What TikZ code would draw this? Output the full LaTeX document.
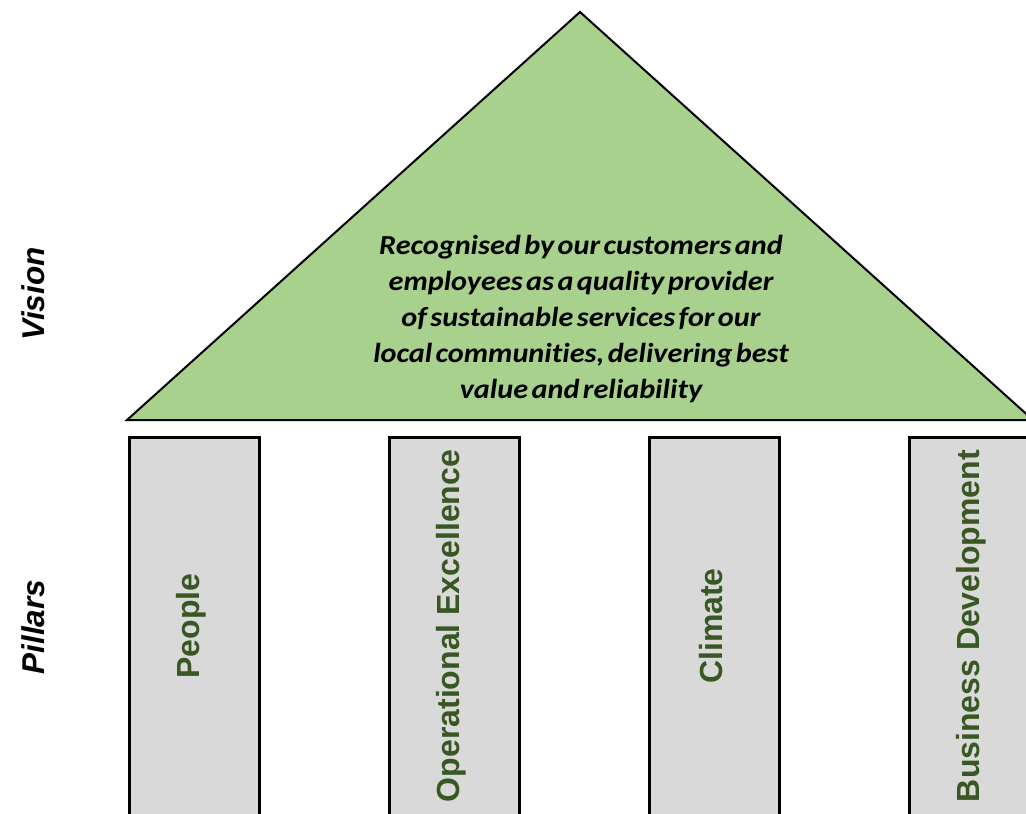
\documentclass[tikz,border=0pt]{standalone}
\usepackage{fontspec}
\setmainfont{Liberation Sans}
\newfontfamily\calib[Ligatures=NoCommon,FakeStretch=1.1,WordSpace=0.5]{Carlito}
\definecolor{roofgreen}{HTML}{A9D18E}
\definecolor{pillargray}{HTML}{D9D9D9}
\definecolor{textgreen}{HTML}{385723}
\begin{document}
\begin{tikzpicture}[x=1pt,y=-1pt,
  roof/.style={fill=roofgreen,draw=black,line width=2pt,line join=miter},
  pillar/.style={fill=pillargray,draw=black,line width=3pt,minimum width=130pt,minimum height=420pt,anchor=north west,inner sep=0pt},
  pillartext/.style={rotate=90,font=\bfseries\fontsize{32}{34}\selectfont,text=textgreen},
  sidelabel/.style={rotate=90,font=\bfseries\itshape\fontsize{31.5}{33}\selectfont,text=black},
  visiontext/.style={align=center,font=\calib\bfseries\itshape\fontsize{27.5}{36}\selectfont}]
\useasboundingbox (0,0) rectangle (1026,814);
\clip (0,0) rectangle (1026,814);
\coordinate (apex) at (580,12);
\coordinate (bl) at (127,420);
\coordinate (br) at (1033,420);
\draw[roof] (apex) -- (br) -- (bl) -- cycle;
\node[visiontext] (vision) at (581,319) {Recognised by our customers and\\employees as a quality provider\\of sustainable services for our\\local communities, delivering best\\value and reliability};
\node[pillar] (p1) at (128,436) {};
\node[pillar] (p2) at (388,436) {};
\node[pillar] (p3) at (648,436) {};
\node[pillar] (p4) at (908,436) {};
\node[pillartext] (t1) at (191,626) {People};
\node[pillartext] (t2) at (451,626) {Operational Excellence};
\node[pillartext] (t3) at (711,626) {Climate};
\node[pillartext] (t4) at (971,626) {Business Development};
\node[sidelabel] (lv) at (33,294) {Vision};
\node[sidelabel] (lp) at (33,627) {Pillars};
\end{tikzpicture}
\end{document}
